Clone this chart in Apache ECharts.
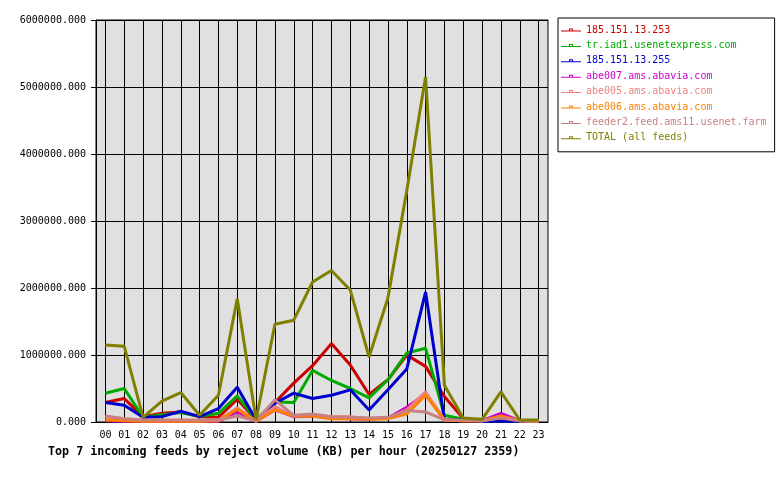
<!DOCTYPE html>
<html>
<head>
<meta charset="utf-8">
<script src="https://cdn.jsdelivr.net/npm/echarts@6/dist/echarts.min.js"></script>
<style>
  html, body { margin: 0; padding: 0; background: #fff; }
  #chart { width: 780px; height: 480px; }
</style>
</head>
<body>
<div id="chart"></div>
<script>
const hours = ['00','01','02','03','04','05','06','07','08','09','10','11','12','13','14','15','16','17','18','19','20','21','22','23'];

const feedNames = [
  '185.151.13.253',
  'tr.iad1.usenetexpress.com',
  '185.151.13.255',
  'abe007.ams.abavia.com',
  'abe005.ams.abavia.com',
  'abe006.ams.abavia.com',
  'feeder2.feed.ams11.usenet.farm',
  'TOTAL (all feeds)'
];
const feedColors = ['#cc0000', '#00aa00', '#0000cc', '#cc00cc', '#f08080', '#ff8000', '#c88080', '#808000'];

const feed253 = [290000, 350000, 80000, 130000, 150000, 80000, 70000, 340000, 30000, 290000, 580000, 840000, 1170000, 850000, 410000, 630000, 1000000, 830000, 380000, 50000, 20000, 30000, 20000, 10000];
const feedUsenetexpress = [430000, 500000, 70000, 110000, 140000, 80000, 130000, 390000, 30000, 300000, 290000, 770000, 620000, 500000, 360000, 630000, 1030000, 1100000, 100000, 40000, 20000, 20000, 10000, 10000];
const feed255 = [290000, 250000, 70000, 80000, 160000, 80000, 200000, 520000, 30000, 280000, 430000, 350000, 400000, 480000, 180000, 480000, 790000, 1940000, 30000, 30000, 10000, 10000, 10000, 10000];
const feedAbe007 = [20000, 10000, 10000, 10000, 10000, 10000, 10000, 150000, 10000, 180000, 80000, 90000, 60000, 50000, 40000, 60000, 220000, 420000, 30000, 20000, 20000, 130000, 20000, 10000];
const feedAbe005 = [80000, 50000, 20000, 20000, 20000, 20000, 30000, 210000, 10000, 230000, 90000, 100000, 80000, 80000, 50000, 60000, 180000, 450000, 30000, 20000, 20000, 70000, 20000, 10000];
const feedAbe006 = [30000, 20000, 10000, 10000, 10000, 10000, 20000, 190000, 10000, 180000, 90000, 90000, 50000, 50000, 40000, 50000, 120000, 400000, 30000, 20000, 20000, 90000, 20000, 10000];
const feedFeeder2 = [90000, 50000, 30000, 30000, 30000, 30000, 30000, 90000, 20000, 330000, 100000, 120000, 80000, 70000, 60000, 70000, 170000, 150000, 30000, 30000, 20000, 60000, 20000, 20000];
const feedTotal = [1150000, 1130000, 70000, 310000, 440000, 100000, 400000, 1840000, 30000, 1460000, 1520000, 2090000, 2260000, 1970000, 970000, 1850000, 3450000, 5150000, 550000, 60000, 40000, 450000, 30000, 30000];

const feedData = [feed253, feedUsenetexpress, feed255, feedAbe007, feedAbe005, feedAbe006, feedFeeder2, feedTotal];

const font = 'DejaVu Sans Mono';
// thin line with a small hollow square in the middle, like the rrd-style legend key
const legendIcon = 'path://M0,5L8,5L8,3L12,3L12,5L20,5L20,6L0,6Z M9,4L9,5L11,5L11,4Z';

const chart = echarts.init(document.getElementById('chart'));

chart.setOption({
  animation: false,
  backgroundColor: '#ffffff',
  title: {
    text: 'Top 7 incoming feeds by reject volume (KB) per hour (20250127 2359)',
    left: 48,
    top: 446,
    padding: 0,
    textStyle: { fontFamily: font, fontSize: 11.7, fontWeight: 'bold', color: '#000' }
  },
  legend: {
    orient: 'vertical',
    left: 558,
    top: 18,
    padding: [7, 8, 9, 3],
    itemWidth: 20,
    itemHeight: 10,
    itemGap: 5.4,
    backgroundColor: '#ffffff',
    borderColor: '#000',
    borderWidth: 1,
    data: feedNames.map((name, i) => ({
      name: name,
      icon: legendIcon,
      textStyle: { color: feedColors[i] }
    })),
    textStyle: { fontFamily: font, fontSize: 10, lineHeight: 10 }
  },
  grid: {
    left: 96,
    right: 232,
    top: 20,
    bottom: 58,
    show: true,
    backgroundColor: '#e0e0e0',
    borderColor: '#000',
    borderWidth: 1
  },
  xAxis: {
    type: 'category',
    data: hours,
    boundaryGap: true,
    axisLine: { lineStyle: { color: '#000', width: 1 } },
    axisTick: { alignWithLabel: true, length: 5, lineStyle: { color: '#000' } },
    axisLabel: { margin: 8, fontFamily: font, fontSize: 10, color: '#000' },
    splitLine: { show: true, alignWithLabel: true, lineStyle: { color: '#000', width: 1 } }
  },
  yAxis: {
    type: 'value',
    min: 0,
    max: 6000000,
    interval: 1000000,
    axisLine: { show: true, lineStyle: { color: '#000', width: 1 } },
    axisTick: { show: true, length: 5, lineStyle: { color: '#000' } },
    axisLabel: {
      margin: 10,
      fontFamily: font,
      fontSize: 10,
      color: '#000',
      formatter: v => v.toFixed(3)
    },
    splitLine: { show: true, lineStyle: { color: '#000', width: 1 } }
  },
  series: feedNames.map((name, i) => ({
    name: name,
    type: 'line',
    data: feedData[i],
    color: feedColors[i],
    symbol: 'none',
    lineStyle: { width: 3 },
    z: 2 + i
  }))
});
</script>
</body>
</html>
